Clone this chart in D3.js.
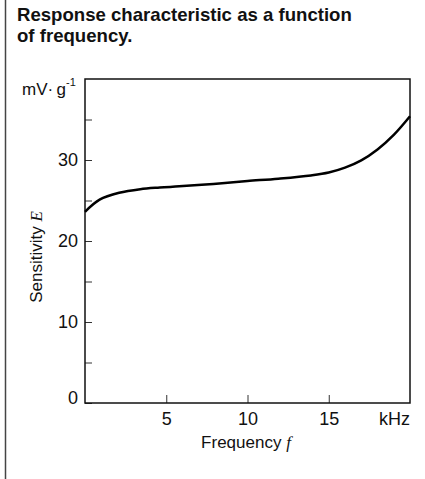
<!DOCTYPE html>
<html><head><meta charset="utf-8">
<script src="https://cdn.jsdelivr.net/npm/d3@7"></script>
<style>
body{margin:0;background:#fff}
text{font-family:"Liberation Sans",Arial,Helvetica,sans-serif;fill:#111}
</style>
</head><body><svg id="c" width="425" height="479"></svg>
<script>
const freq = [0, 0.9, 2.1, 3.4, 4.6, 5.8, 7.9, 10, 11.9, 13.9, 15.0, 16.0, 17.0, 18.0, 19.0, 20];
const sensitivity = [23.6, 25.1, 25.95, 26.4, 26.6, 26.75, 27.05, 27.4, 27.7, 28.1, 28.45, 29.05, 29.95, 31.3, 33.1, 35.4];
const xTicks = [5, 10, 15];
const yMajorTicks = [0, 10, 20, 30];
const yMinorTicks = [5, 15, 25, 35];
const titleLines = ["Response characteristic as a function", "of frequency."];

const svg = d3.select("#c");
const x = d3.scaleLinear().domain([0, 20]).range([85, 410]);
const y = d3.scaleLinear().domain([0, 40]).range([403, 79]);
const FONT = "Liberation Sans, Arial, sans-serif";

// left page rule
svg.append("line").attr("x1", 5.5).attr("x2", 5.5).attr("y1", 0).attr("y2", 479)
  .attr("stroke", "#444").attr("stroke-width", 1.5);

// title
svg.append("g").selectAll("text").data(titleLines).join("text")
  .attr("x", 17).attr("y", (d, i) => 20.7 + i * 21)
  .attr("font-size", 18.6).attr("font-weight", "bold").text(d => d);

// y axis ticks (inside)
const yAxis = d3.axisLeft(y).tickValues([...yMajorTicks, ...yMinorTicks])
  .tickSizeInner(-7).tickSizeOuter(0).tickPadding(7)
  .tickFormat(d => yMajorTicks.includes(d) ? d : "");
const gy = svg.append("g").attr("transform", `translate(${x(0)},0)`).call(yAxis);
gy.select(".domain").remove();
gy.selectAll(".tick line").attr("stroke", "#333");
gy.selectAll(".tick text").attr("font-size", 18).attr("fill", "#111").attr("font-family", FONT);
gy.selectAll(".tick").filter(d => d === 0).select("text").attr("dy", "0.0em");

// x axis ticks (inside)
const xAxis = d3.axisBottom(x).tickValues(xTicks).tickSizeInner(-8).tickSizeOuter(0).tickPadding(9);
const gx = svg.append("g").attr("transform", `translate(0,${y(0)})`).call(xAxis);
gx.select(".domain").remove();
gx.selectAll(".tick line").attr("stroke", "#333");
gx.selectAll(".tick text").attr("font-size", 18).attr("fill", "#111").attr("font-family", FONT);

// unit kHz
svg.append("text").attr("x", x(20)).attr("y", y(0) + 9 + 12.8).attr("text-anchor", "end")
  .attr("font-size", 18).text("kHz");

// frame
svg.append("rect").attr("x", x(0)).attr("y", y(40)).attr("width", x(20) - x(0)).attr("height", y(0) - y(40))
  .attr("fill", "none").attr("stroke", "#111").attr("stroke-width", 1.5);

// curve
const pts = freq.map((f, i) => [f, sensitivity[i]]);
svg.append("path").datum(pts)
  .attr("d", d3.line().x(d => x(d[0])).y(d => y(d[1])).curve(d3.curveCatmullRom.alpha(0.5)))
  .attr("fill", "none").attr("stroke", "#000").attr("stroke-width", 2.5);

// y unit
const u = svg.append("text").attr("x", 22).attr("y", 95).attr("font-size", 17);
u.append("tspan").text("mV\u00B7\u2009g");
u.append("tspan").attr("font-size", 11).attr("dy", -9).text("-1");

// y label
const yl = svg.append("text").attr("transform", "translate(42,257) rotate(-90)")
  .attr("text-anchor", "middle").attr("font-size", 17);
yl.append("tspan").text("Sensitivity ");
yl.append("tspan").attr("font-family", "Liberation Serif, serif").attr("font-style", "italic").text("E");

// x label
const xl = svg.append("text").attr("x", 246).attr("y", 448)
  .attr("text-anchor", "middle").attr("font-size", 17);
xl.append("tspan").text("Frequency ");
xl.append("tspan").attr("font-family", "Liberation Serif, serif").attr("font-style", "italic").text("f");
</script>
</body></html>
